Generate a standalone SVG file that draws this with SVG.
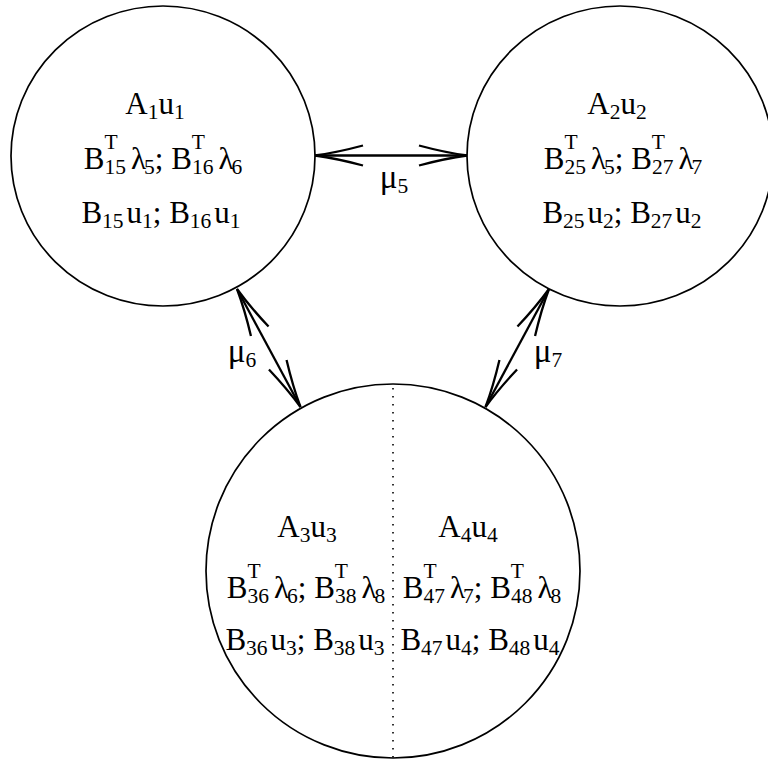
<svg xmlns="http://www.w3.org/2000/svg" width="768" height="760" viewBox="0 0 768 760">
<style>
.node{fill:#fff;stroke:#000;stroke-width:1.7}
.t{font-family:"Liberation Serif","Times New Roman",serif;font-size:31px;fill:#000;text-anchor:middle}
.s{font-size:21.5px}
.mu{font-size:33px}
.arr{fill:none;stroke:#000;stroke-width:2.3;marker-start:url(#v);marker-end:url(#v)}
.div{stroke:#000;stroke-width:1.6;stroke-dasharray:1.6 6.4}
</style>
<defs>
<marker id="v" markerUnits="userSpaceOnUse" markerWidth="60" markerHeight="30" refX="0" refY="0" viewBox="-55 -15 60 30" orient="auto-start-reverse" overflow="visible">
<path d="M-48,-10 Q-22,-3 0,0 Q-22,3 -48,10" fill="none" stroke="#000" stroke-width="2.3"/>
</marker>
</defs>
<rect width="768" height="760" fill="#fff"/>
<g id="node1">
<ellipse class="node" cx="163" cy="156" rx="152" ry="150"/>
<text class="t" x="155" y="114">A<tspan class="s" dy="5">1</tspan><tspan dy="-5">u</tspan><tspan class="s" dy="5">1</tspan></text>
<text class="t" x="163" y="169">B<tspan class="s" dy="-20">T</tspan><tspan class="s" dx="-13.1" dy="25">15</tspan><tspan dx="5" dy="-5">λ</tspan><tspan class="s" dx="-2" dy="5">5</tspan><tspan dy="-5">; B</tspan><tspan class="s" dy="-20">T</tspan><tspan class="s" dx="-13.1" dy="25">16</tspan><tspan dx="5" dy="-5">λ</tspan><tspan class="s" dx="-2" dy="5">6</tspan></text>
<text class="t" x="161" y="223">B<tspan class="s" dy="5">15</tspan><tspan dx="3" dy="-5">u</tspan><tspan class="s" dy="5">1</tspan><tspan dy="-5">; B</tspan><tspan class="s" dy="5">16</tspan><tspan dx="3" dy="-5">u</tspan><tspan class="s" dy="5">1</tspan></text>
</g>
<g id="node2">
<ellipse class="node" cx="620" cy="156" rx="153" ry="150"/>
<text class="t" x="617" y="114">A<tspan class="s" dy="5">2</tspan><tspan dy="-5">u</tspan><tspan class="s" dy="5">2</tspan></text>
<text class="t" x="623" y="169">B<tspan class="s" dy="-20">T</tspan><tspan class="s" dx="-13.1" dy="25">25</tspan><tspan dx="5" dy="-5">λ</tspan><tspan class="s" dx="-2" dy="5">5</tspan><tspan dy="-5">; B</tspan><tspan class="s" dy="-20">T</tspan><tspan class="s" dx="-13.1" dy="25">27</tspan><tspan dx="5" dy="-5">λ</tspan><tspan class="s" dx="-2" dy="5">7</tspan></text>
<text class="t" x="622" y="223">B<tspan class="s" dy="5">25</tspan><tspan dx="3" dy="-5">u</tspan><tspan class="s" dy="5">2</tspan><tspan dy="-5">; B</tspan><tspan class="s" dy="5">27</tspan><tspan dx="3" dy="-5">u</tspan><tspan class="s" dy="5">2</tspan></text>
</g>
<g id="node3">
<circle class="node" cx="393" cy="571" r="187"/>
<line class="div" x1="393" y1="388" x2="393" y2="758"/>
<text class="t" x="307" y="537">A<tspan class="s" dy="5">3</tspan><tspan dy="-5">u</tspan><tspan class="s" dy="5">3</tspan></text>
<text class="t" x="306" y="598">B<tspan class="s" dy="-20">T</tspan><tspan class="s" dx="-13.1" dy="25">36</tspan><tspan dx="5" dy="-5">λ</tspan><tspan class="s" dx="-2" dy="5">6</tspan><tspan dy="-5">; B</tspan><tspan class="s" dy="-20">T</tspan><tspan class="s" dx="-13.1" dy="25">38</tspan><tspan dx="5" dy="-5">λ</tspan><tspan class="s" dx="-2" dy="5">8</tspan></text>
<text class="t" x="305" y="650">B<tspan class="s" dy="5">36</tspan><tspan dx="3" dy="-5">u</tspan><tspan class="s" dy="5">3</tspan><tspan dy="-5">; B</tspan><tspan class="s" dy="5">38</tspan><tspan dx="3" dy="-5">u</tspan><tspan class="s" dy="5">3</tspan></text>
</g>
<g id="node4">
<text class="t" x="468" y="537">A<tspan class="s" dy="5">4</tspan><tspan dy="-5">u</tspan><tspan class="s" dy="5">4</tspan></text>
<text class="t" x="482" y="598">B<tspan class="s" dy="-20">T</tspan><tspan class="s" dx="-13.1" dy="25">47</tspan><tspan dx="5" dy="-5">λ</tspan><tspan class="s" dx="-2" dy="5">7</tspan><tspan dy="-5">; B</tspan><tspan class="s" dy="-20">T</tspan><tspan class="s" dx="-13.1" dy="25">48</tspan><tspan dx="5" dy="-5">λ</tspan><tspan class="s" dx="-2" dy="5">8</tspan></text>
<text class="t" x="480" y="650">B<tspan class="s" dy="5">47</tspan><tspan dx="3" dy="-5">u</tspan><tspan class="s" dy="5">4</tspan><tspan dy="-5">; B</tspan><tspan class="s" dy="5">48</tspan><tspan dx="3" dy="-5">u</tspan><tspan class="s" dy="5">4</tspan></text>
</g>
<g id="connectors">
<line class="arr" x1="315" y1="155.5" x2="467" y2="155.5"/>
<line class="arr" x1="237" y1="289" x2="300.5" y2="407"/>
<line class="arr" x1="549" y1="289" x2="485.5" y2="407"/>
<text class="t" x="394" y="188"><tspan class="mu">μ</tspan><tspan class="s" dy="5">5</tspan></text>
<text class="t" x="242" y="362"><tspan class="mu">μ</tspan><tspan class="s" dy="5">6</tspan></text>
<text class="t" x="548" y="362"><tspan class="mu">μ</tspan><tspan class="s" dy="5">7</tspan></text>
</g>
</svg>
